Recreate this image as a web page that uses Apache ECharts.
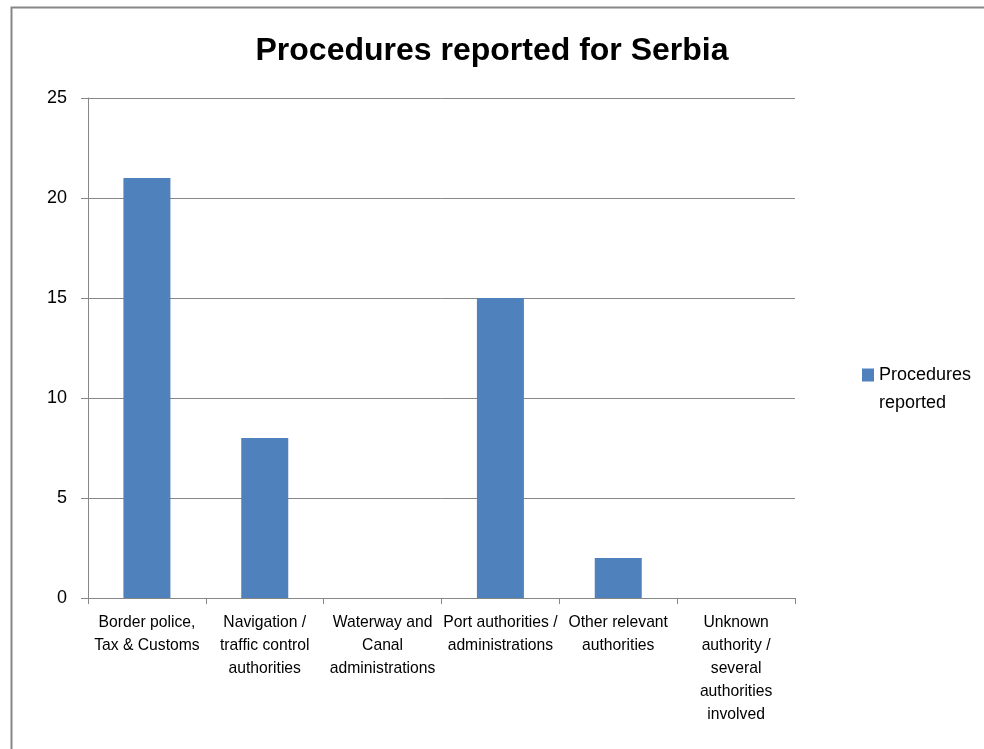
<!DOCTYPE html>
<html><head><meta charset="utf-8">
<script src="https://cdn.jsdelivr.net/npm/echarts@6/dist/echarts.min.js"></script>
<style>html,body{margin:0;padding:0;background:#fff}#c{width:984px;height:749px}</style>
</head><body><div id="c"></div>
<script>
const titleText = "Procedures reported for Serbia";
const seriesName = "Procedures reported";
const categories = [
  "Border police,\nTax & Customs",
  "Navigation /\ntraffic control\nauthorities",
  "Waterway and\nCanal\nadministrations",
  "Port authorities /\nadministrations",
  "Other relevant\nauthorities",
  "Unknown\nauthority /\nseveral\nauthorities\ninvolved"
];
const values = [21, 8, 0, 15, 2, 0];
const yTicks = {min: 0, max: 25, interval: 5};

const FONT = "'Liberation Sans', Arial, sans-serif";
const chart = echarts.init(document.getElementById('c'), null, {renderer: 'canvas'});
chart.setOption({
  animation: false,
  backgroundColor: '#fff',
  graphic: [{
    type: 'rect', left: 9, top: 5,
    shape: {width: 1000, height: 800},
    style: {fill: 'none', stroke: '#878787', lineWidth: 2},
    silent: true
  }],
  title: {
    text: titleText, left: 'center', top: 30,
    textStyle: {fontFamily: FONT, fontWeight: 'bold', fontSize: 32, color: '#000'}
  },
  legend: {
    data: [seriesName], left: 857, top: 328, orient: 'vertical',
    itemWidth: 12, itemHeight: 13, itemGap: 4, icon: 'rect',
    formatter: () => '\nProcedures\nreported',
    textStyle: {fontFamily: FONT, fontSize: 18, color: '#000', lineHeight: 28}
  },
  grid: {left: 88, top: 98, right: 189, bottom: 151, containLabel: false},
  xAxis: {
    type: 'category', data: categories,
    axisLine: {lineStyle: {color: '#878787', width: 1}},
    axisTick: {show: true, length: 6, alignWithLabel: false, lineStyle: {color: '#878787'}},
    axisLabel: {interval: 0, fontFamily: FONT, fontSize: 15.7, color: '#000', lineHeight: 23, margin: 13}
  },
  yAxis: {
    type: 'value', min: yTicks.min, max: yTicks.max, interval: yTicks.interval,
    axisLine: {show: true, lineStyle: {color: '#878787', width: 1}},
    axisTick: {show: true, length: 7, lineStyle: {color: '#878787'}},
    splitLine: {lineStyle: {color: '#878787', width: 1}},
    axisLabel: {fontFamily: FONT, fontSize: 18, color: '#000', margin: 21}
  },
  series: [{
    name: seriesName, type: 'bar', data: values,
    barWidth: 47,
    itemStyle: {color: '#4F81BD'}
  }]
});
</script></body></html>
